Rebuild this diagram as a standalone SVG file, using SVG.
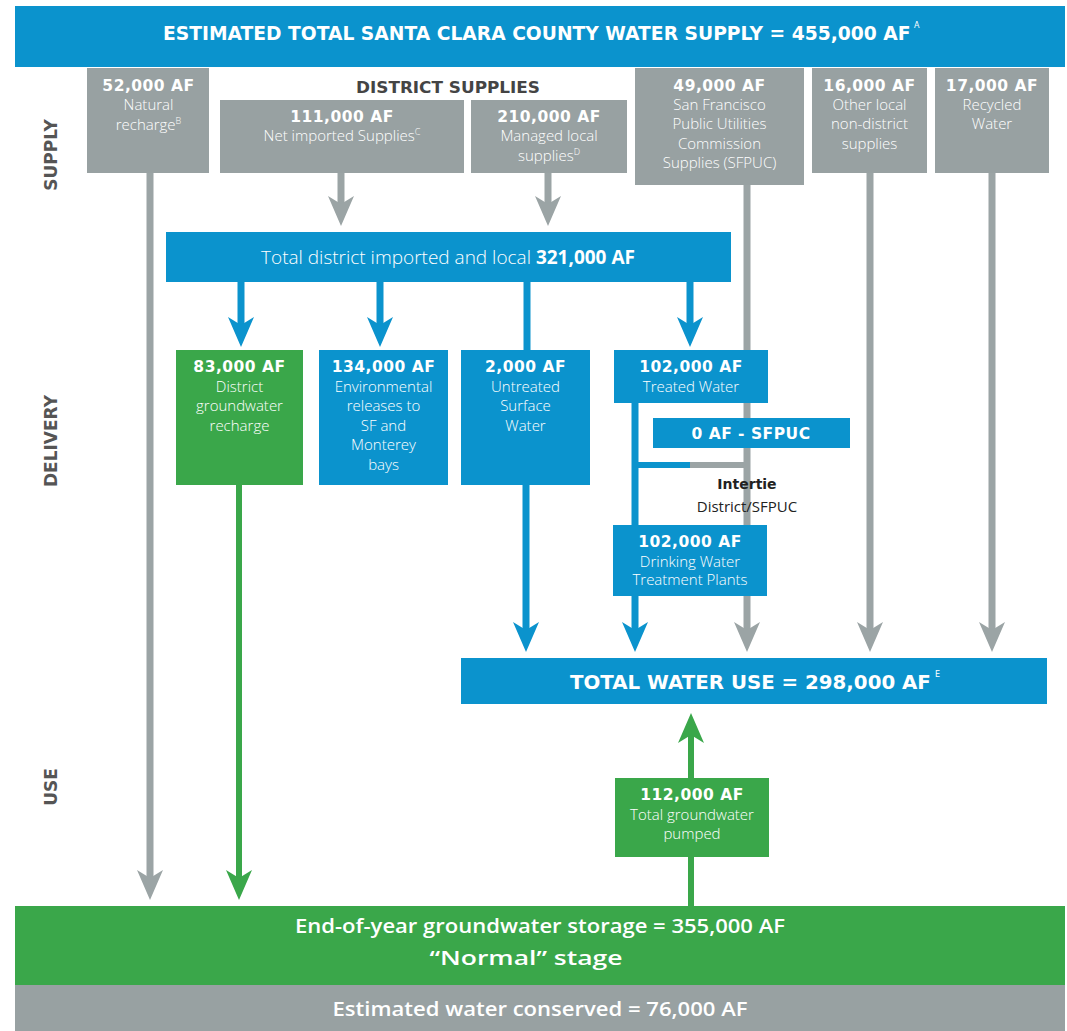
<svg xmlns="http://www.w3.org/2000/svg" width="1067" height="1031" viewBox="0 0 1067 1031">
<style>
.bg{fill:#ffffff}
.blue{fill:#0b93cd}
.gray{fill:#98a1a2}
.green{fill:#3aa74a}
.n{font-family:"DejaVu Sans",sans-serif;font-weight:bold;font-size:15.5px;fill:#fff;text-anchor:middle;letter-spacing:0.5px}
.d{font-family:"Open Sans",sans-serif;font-weight:300;font-size:15px;fill:#fff;text-anchor:middle}
.h{font-family:"DejaVu Sans",sans-serif;font-weight:bold;fill:#fff}
.c{font-family:"Open Sans",sans-serif;font-weight:600;font-size:20px;fill:#fff;text-anchor:middle}
.side{font-family:"DejaVu Sans",sans-serif;font-weight:bold;font-size:17px;fill:#555;text-anchor:middle}
.dk{font-family:"DejaVu Sans",sans-serif;font-weight:bold;font-size:16px;fill:#444;text-anchor:middle}
.sup{font-size:9px}
.hs{font-family:"DejaVu Sans",sans-serif;font-size:8px;fill:#fff}
.lg{stroke:#9ba4a5;stroke-width:7;fill:none}
.lb{stroke:#0b93cd;stroke-width:7;fill:none}
.lgr{stroke:#3aa74a;stroke-width:6;fill:none}
</style>
<defs>
<marker id="ag" viewBox="0 0 30 26" markerWidth="30" markerHeight="26" refX="20" refY="13" orient="auto" markerUnits="userSpaceOnUse"><path d="M0,0 L8,13 L0,26 L30,13 Z" fill="#9ba4a5"/></marker>
<marker id="ab" viewBox="0 0 30 26" markerWidth="30" markerHeight="26" refX="20" refY="13" orient="auto" markerUnits="userSpaceOnUse"><path d="M0,0 L8,13 L0,26 L30,13 Z" fill="#0b93cd"/></marker>
<marker id="agr" viewBox="0 0 30 26" markerWidth="30" markerHeight="26" refX="20" refY="13" orient="auto" markerUnits="userSpaceOnUse"><path d="M0,0 L8,13 L0,26 L30,13 Z" fill="#3aa74a"/></marker>
</defs>
<rect class="bg" x="0" y="0" width="1067" height="1031"/>

<g id="side-labels">
<text class="side" transform="rotate(-90 57 155)" x="57" y="155">SUPPLY</text>
<text class="side" transform="rotate(-90 57 441)" x="57" y="441">DELIVERY</text>
<text class="side" transform="rotate(-90 57 787)" x="57" y="787">USE</text>
</g>

<g id="connectors">
<line class="lg" x1="150" y1="172" x2="150" y2="890" marker-end="url(#ag)"/>
<line class="lg" x1="341" y1="172" x2="341" y2="216" marker-end="url(#ag)"/>
<line class="lg" x1="548" y1="172" x2="548" y2="216" marker-end="url(#ag)"/>
<line class="lg" x1="747" y1="185" x2="747" y2="642" marker-end="url(#ag)"/>
<line class="lg" x1="870" y1="172" x2="870" y2="642" marker-end="url(#ag)"/>
<line class="lg" x1="992" y1="172" x2="992" y2="642" marker-end="url(#ag)"/>
<line class="lb" x1="241" y1="282" x2="241" y2="337" marker-end="url(#ab)"/>
<line class="lb" x1="380" y1="282" x2="380" y2="337" marker-end="url(#ab)"/>
<line class="lb" x1="527" y1="282" x2="527" y2="351"/>
<line class="lb" x1="690" y1="282" x2="690" y2="337" marker-end="url(#ab)"/>
<line class="lb" x1="526" y1="485" x2="526" y2="642" marker-end="url(#ab)"/>
<line class="lb" x1="635" y1="403" x2="635" y2="642" marker-end="url(#ab)"/>
<line stroke="#0b93cd" stroke-width="6" x1="632" y1="465" x2="690" y2="465"/>
<line stroke="#9ba4a5" stroke-width="6" x1="690" y1="465" x2="750" y2="465"/>
<line class="lgr" x1="239" y1="485" x2="239" y2="890" marker-end="url(#agr)"/>
<line class="lgr" x1="691" y1="906" x2="691" y2="723" marker-end="url(#agr)"/>
</g>

<g id="banner">
<rect class="blue" x="15" y="6" width="1050" height="61"/>
<text class="h" x="163" y="40" font-size="18.7">ESTIMATED TOTAL SANTA CLARA COUNTY WATER SUPPLY = 455,000 AF</text>
<text class="hs" x="914" y="28">A</text>
</g>

<g id="district-supplies-label">
<text class="dk" x="448" y="93" textLength="184" lengthAdjust="spacingAndGlyphs">DISTRICT SUPPLIES</text>
</g>

<g id="natural-recharge">
<rect class="gray" x="87" y="68" width="122" height="105"/>
<text class="n" x="148.5" y="91">52,000 AF</text>
<text class="d" x="148.5" y="110">Natural</text>
<text class="d" x="148.5" y="130">recharge<tspan class="sup" dy="-6">B</tspan></text>
</g>

<g id="net-imported">
<rect class="gray" x="220" y="100" width="244" height="73"/>
<text class="n" x="342" y="122">111,000 AF</text>
<text class="d" x="342" y="141">Net imported Supplies<tspan class="sup" dy="-6">C</tspan></text>
</g>

<g id="managed-local">
<rect class="gray" x="471" y="100" width="156" height="73"/>
<text class="n" x="549" y="122">210,000 AF</text>
<text class="d" x="549" y="141">Managed local</text>
<text class="d" x="549" y="161">supplies<tspan class="sup" dy="-6">D</tspan></text>
</g>

<g id="sfpuc-supply">
<rect class="gray" x="635" y="68" width="169" height="117"/>
<text class="n" x="719.5" y="91">49,000 AF</text>
<text class="d" x="719.5" y="110">San Francisco</text>
<text class="d" x="719.5" y="129">Public Utilities</text>
<text class="d" x="719.5" y="149">Commission</text>
<text class="d" x="719.5" y="168">Supplies (SFPUC)</text>
</g>

<g id="other-local">
<rect class="gray" x="812" y="68" width="115" height="105"/>
<text class="n" x="869.5" y="91">16,000 AF</text>
<text class="d" x="869.5" y="110">Other local</text>
<text class="d" x="869.5" y="129">non-district</text>
<text class="d" x="869.5" y="149">supplies</text>
</g>

<g id="recycled">
<rect class="gray" x="935" y="68" width="114" height="105"/>
<text class="n" x="992" y="91">17,000 AF</text>
<text class="d" x="992" y="110">Recycled</text>
<text class="d" x="992" y="129">Water</text>
</g>

<g id="total-district">
<rect class="blue" x="166" y="232" width="565" height="50"/>
<text x="448" y="264" style="font-family:'Open Sans',sans-serif;font-size:19px;fill:#fff;text-anchor:middle"><tspan font-weight="300">Total district imported and local </tspan><tspan font-weight="bold">321,000 AF</tspan></text>
</g>

<g id="gw-recharge">
<rect class="green" x="176" y="350" width="127" height="135"/>
<text class="n" x="239.5" y="372">83,000 AF</text>
<text class="d" x="239.5" y="392">District</text>
<text class="d" x="239.5" y="411">groundwater</text>
<text class="d" x="239.5" y="431">recharge</text>
</g>

<g id="env-releases">
<rect class="blue" x="319" y="350" width="129" height="135"/>
<text class="n" x="383.5" y="372">134,000 AF</text>
<text class="d" x="383.5" y="392">Environmental</text>
<text class="d" x="383.5" y="411">releases to</text>
<text class="d" x="383.5" y="431">SF and</text>
<text class="d" x="383.5" y="450">Monterey</text>
<text class="d" x="383.5" y="470">bays</text>
</g>

<g id="untreated">
<rect class="blue" x="461" y="350" width="129" height="135"/>
<text class="n" x="525.5" y="372">2,000 AF</text>
<text class="d" x="525.5" y="392">Untreated</text>
<text class="d" x="525.5" y="411">Surface</text>
<text class="d" x="525.5" y="431">Water</text>
</g>

<g id="treated">
<rect class="blue" x="614" y="350" width="154" height="53"/>
<text class="n" x="691" y="372">102,000 AF</text>
<text class="d" x="691" y="392">Treated Water</text>
</g>

<g id="sfpuc-zero">
<rect class="blue" x="653" y="418" width="197" height="30"/>
<text class="n" x="751" y="439">0 AF - SFPUC</text>
</g>

<g id="intertie">
<text x="747" y="489" style="font-family:'DejaVu Sans',sans-serif;font-weight:bold;font-size:14px;fill:#222;text-anchor:middle">Intertie</text>
<text x="747" y="512" style="font-family:'Open Sans',sans-serif;font-size:15px;fill:#222;text-anchor:middle">District/SFPUC</text>
</g>

<g id="dwtp">
<rect class="blue" x="613" y="525" width="154" height="71"/>
<text class="n" x="690" y="547">102,000 AF</text>
<text class="d" x="690" y="567">Drinking Water</text>
<text class="d" x="690" y="585">Treatment Plants</text>
</g>

<g id="total-use">
<rect class="blue" x="461" y="658" width="586" height="46"/>
<text class="h" x="570" y="689" font-size="19.8">TOTAL WATER USE = 298,000 AF</text>
<text class="hs" x="935" y="677">E</text>
</g>

<g id="gw-pumped">
<rect class="green" x="615" y="778" width="154" height="79"/>
<text class="n" x="692" y="800">112,000 AF</text>
<text class="d" x="692" y="820">Total groundwater</text>
<text class="d" x="692" y="839">pumped</text>
</g>

<g id="storage">
<rect class="green" x="15" y="906" width="1050" height="79"/>
<text class="c" x="540" y="933" textLength="490" lengthAdjust="spacingAndGlyphs">End-of-year groundwater storage = 355,000 AF</text>
<text class="c" x="526" y="965" textLength="193" lengthAdjust="spacingAndGlyphs">“Normal” stage</text>
</g>

<g id="conserved">
<rect class="gray" x="15" y="985" width="1050" height="46"/>
<text class="c" x="540" y="1016" textLength="415" lengthAdjust="spacingAndGlyphs">Estimated water conserved = 76,000 AF</text>
</g>
</svg>
